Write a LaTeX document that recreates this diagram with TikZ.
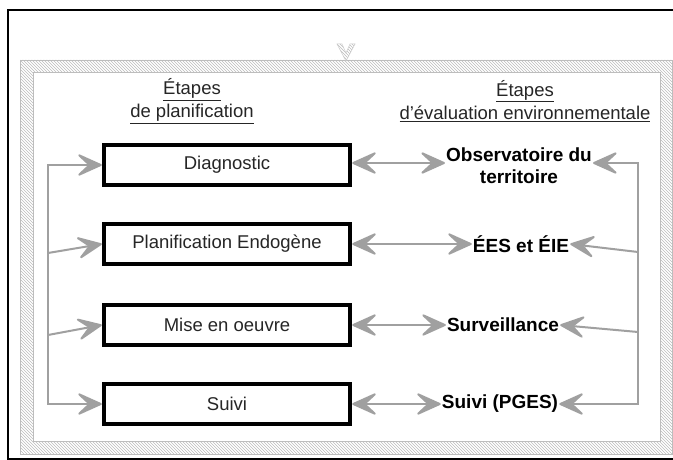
\documentclass[tikz,border=0pt]{standalone}
\usepackage{fontspec}
\setmainfont{Liberation Sans}
\usetikzlibrary{arrows.meta,patterns}
\definecolor{arr}{HTML}{A0A0A0}
\definecolor{hatch}{HTML}{BDBDBD}
\tikzset{
  stepbox/.style={draw=black, line width=4.5pt, fill=white, minimum width=246pt,
    minimum height=40pt, inner sep=0pt, font=\fontsize{18.5}{22}\selectfont, text=black!85},
  evlabel/.style={font=\fontsize{19}{22}\selectfont\bfseries, inner sep=1pt, align=center},
  hdr/.style={font=\fontsize{18.5}{23}\selectfont, inner sep=0pt, align=center, text=black!85},
  conn/.style={draw=arr, line width=2pt},
}
\begin{document}
\begin{tikzpicture}[x=1pt,y=-1pt,
  tipa/.style={-{Stealth[length=29pt,width=26pt,inset=14pt,round]}},
  dtip/.style={{Stealth[length=29pt,width=26pt,inset=14pt,round]}-{Stealth[length=29pt,width=26pt,inset=14pt,round]}}]
\useasboundingbox (0,0) rectangle (673,460);
\fill[white] (0,0) rectangle (673,460);
% outer frame
\draw[line width=2pt] (690,10) -- (8,10) -- (8,459) -- (690,459);
% hatched band
\fill[pattern=north west lines, pattern color=hatch, even odd rule]
  (20,60) rectangle (672,454) (33,72) rectangle (660,441);
\draw[hatch, line width=0.8pt] (20,60) rectangle (672,454);
\draw[hatch, line width=0.8pt] (33,72) rectangle (660,441);
% small V marker
\fill[pattern=north west lines, pattern color=hatch]
  (337,44) -- (342,44) -- (346,53) -- (350,44) -- (355,44) -- (346,61) -- cycle;
\draw[hatch!80, line width=0.5pt]
  (337,44) -- (342,44) -- (346,53) -- (350,44) -- (355,44) -- (346,61) -- cycle;
% headers
\node[hdr] (h1) at (192,101) {\underline{Étapes}\\\underline{de planification}};
\node[hdr] (h2) at (525,101) {\underline{Étapes}\\\underline{d’évaluation environnementale}};
% planning boxes
\node[stepbox] (b1) at (227,165) {Diagnostic};
\node[stepbox] (b2) at (227,244) {Planification Endogène};
\node[stepbox] (b3) at (227,325) {Mise en oeuvre};
\node[stepbox] (b4) at (227,404) {Suivi};
% evaluation labels
\node[evlabel] (e1) at (519,166) {Observatoire du\\territoire};
\node[evlabel] (e2) at (521,244) {ÉES et ÉIE};
\node[evlabel] (e3) at (503,325) {Surveillance};
\node[evlabel] (e4) at (500,404) {Suivi (PGES)};
% double arrows
\draw[conn,dtip] (b1.east |- 0,163) -- (e1.west |- 0,163);
\draw[conn,dtip] (b2.east) -- (e2.west);
\draw[conn,dtip] (b3.east) -- (e3.west);
\draw[conn,dtip] (b4.east) -- (e4.west);
% left feedback
\coordinate (l1) at (48,165);
\coordinate (l2) at (48,253);
\coordinate (l3) at (48,335);
\coordinate (l4) at (48,404);
\draw[conn,dtip] (b1.west) -- (l1) -- (l4) -- (b4.west);
\draw[conn,tipa] (l2) -- (b2.west);
\draw[conn,tipa] (l3) -- (b3.west);
% right feedback
\coordinate (r1) at (638,163);
\coordinate (r2) at (638,252);
\coordinate (r3) at (638,332);
\coordinate (r4) at (638,404);
\draw[conn,dtip] (e1.east |- r1) -- (r1) -- (r4) -- (e4.east);
\draw[conn,tipa] (r2) -- (e2.east);
\draw[conn,tipa] (r3) -- (e3.east);
\end{tikzpicture}
\end{document}
